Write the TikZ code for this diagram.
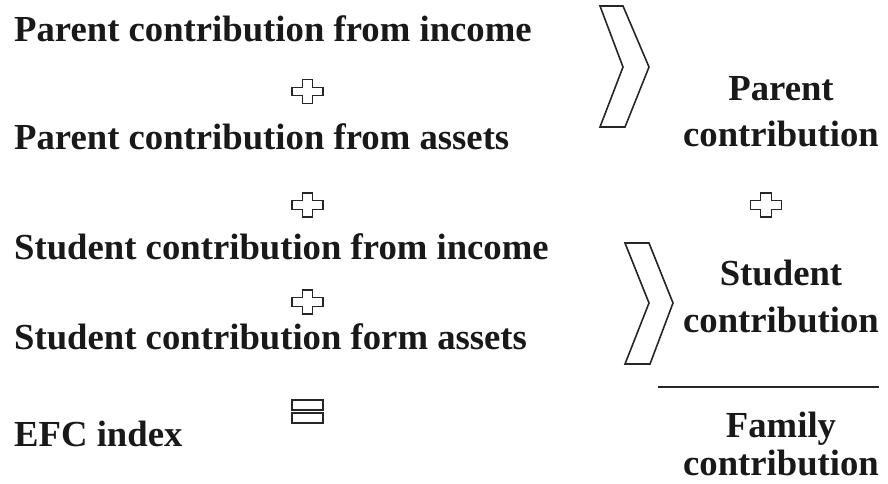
\documentclass[tikz,border=0pt]{standalone}
\usepackage{fontspec}
\setmainfont{Liberation Serif}
\begin{document}
\begin{tikzpicture}[x=1pt,y=-1pt,
  txt/.style={inner sep=0pt,font=\fontsize{36.7}{40}\selectfont\bfseries,text=black!90},
  sym/.style={draw=black!85,line width=1.3pt,line join=miter},
  plussign/.pic={\draw[sym] (-5.2,-12)--(5.2,-12)--(5.2,-4.3)--(15.5,-4.3)--(15.5,4.3)--(5.2,4.3)--(5.2,12)--(-5.2,12)--(-5.2,4.3)--(-15.5,4.3)--(-15.5,-4.3)--(-5.2,-4.3)--cycle;},
  eqsign/.pic={\draw[sym] (-15.5,-11.5) rectangle (15.5,-1.5); \draw[sym] (-15.5,1.5) rectangle (15.5,11.5);},
  chev/.style={draw=black!85,line width=1.6pt,line join=miter}
]
\useasboundingbox (0,0) rectangle (888,483);
% left column
\node[txt,anchor=base west] (pi) at (14,41) {Parent contribution from income};
\node[txt,anchor=base west] (pa) at (14,149) {Parent contribution from assets};
\node[txt,anchor=base west] (si) at (14,259) {Student contribution from income};
\node[txt,anchor=base west] (sa) at (14,349) {Student contribution form assets};
\node[txt,anchor=base west] (efc) at (14,446) {EFC index};
\pic at (307.5,91.5) {plussign};
\pic at (307.5,205) {plussign};
\pic at (307.5,302) {plussign};
\pic at (307.5,411.5) {eqsign};
% chevrons
\draw[chev] (600,6)--(623,6)--(649,67)--(625,127)--(600,127)--(623,67)--cycle;
\draw[chev] (625,243)--(649,243)--(673,303)--(650,364)--(625,364)--(649,303)--cycle;
% right column
\node[txt,anchor=base] (pc1) at (781,100) {Parent};
\node[txt,anchor=base] (pc2) at (781,146) {contribution};
\pic at (766,205) {plussign};
\node[txt,anchor=base] (sc1) at (781,285) {Student};
\node[txt,anchor=base] (sc2) at (781,332) {contribution};
\coordinate (l1) at (658,387);
\coordinate (l2) at (879,387);
\draw[line width=2pt,black!85] (l1) -- (l2);
\node[txt,anchor=base] (fc1) at (781,437) {Family};
\node[txt,anchor=base,text depth=0pt] (fc2) at (781,475) {contribution};
\end{tikzpicture}
\end{document}
